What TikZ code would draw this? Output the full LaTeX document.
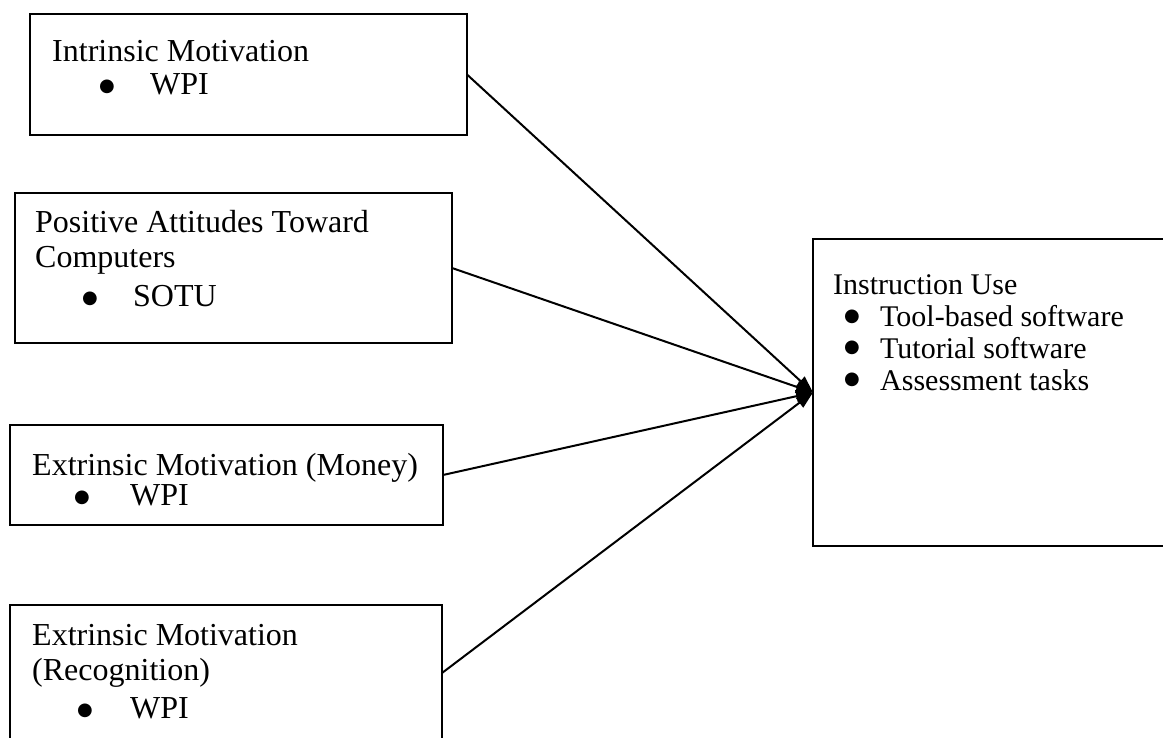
\documentclass[tikz,border=0pt]{standalone}
\usepackage{fontspec}
\setmainfont{Liberation Serif}
\newfontfamily\dotfont{DejaVu Sans}
\usetikzlibrary{arrows.meta}

% list bullet, raised by #1, taking no width of its own
\newcommand\listdot[1]{\makebox[0pt][l]{\hspace{1pt}\raisebox{#1}{\dotfont\fontsize{18}{18}\selectfont ●}}}

\tikzset{
  factor/.style={draw, line width=2pt, rectangle, inner sep=0pt, outer sep=0pt},
  line/.style={anchor=base west, inner sep=0pt, font=\fontsize{32}{36}\selectfont},
  rlist/.style={anchor=base west, inner sep=0pt, align=left, font=\fontsize{30}{31.7}\selectfont},
  link/.style={line width=2pt, -{Triangle[length=17pt,width=12pt]}},
}

\begin{document}
\begin{tikzpicture}[x=1pt, y=-1pt]
\useasboundingbox (0,0) rectangle (1163,738);
\clip (0,0) rectangle (1163,738);

% predictor boxes
\node[factor, minimum width=437pt, minimum height=121pt] (b1) at (248.5,74.5) {};
\node[factor, minimum width=437pt, minimum height=150pt] (b2) at (233.5,268) {};
\node[factor, minimum width=433pt, minimum height=100pt] (b3) at (226.5,475) {};
\node[factor, minimum width=432pt, minimum height=136pt] (b4) at (226,673) {};
% outcome box
\node[factor, minimum width=362pt, minimum height=307pt] (ru) at (994,392.5) {};

% box 1
\node[line] (t1a) at (52,62) {Intrinsic Motivation};
\node[line] (t1b) at (98,95) {\listdot{3pt}\hspace{52pt}WPI};

% box 2
\node[line] (t2a) at (35,233) {Positive Attitudes Toward};
\node[line] (t2b) at (35,268) {Computers};
\node[line] (t2c) at (81,307) {\listdot{3pt}\hspace{52pt}SOTU};

% box 3
\node[line] (t3a) at (32,475) {Extrinsic Motivation (Money)};
\node[line] (t3b) at (73,505) {\listdot{3pt}\hspace{57pt}WPI};

% box 4
\node[line] (t4a) at (32,645) {Extrinsic Motivation};
\node[line] (t4b) at (32,680) {(Recognition)};
\node[line] (t4c) at (76,718) {\listdot{3pt}\hspace{54pt}WPI};

% outcome (anchored at the baseline of its last line)
\node[rlist] (r0) at (833,390) {Instruction Use\\
  \hspace*{10pt}\listdot{5.5pt}\hspace{37pt}Tool-based software\\
  \hspace*{10pt}\listdot{5.5pt}\hspace{37pt}Tutorial software\\
  \hspace*{10pt}\listdot{5.5pt}\hspace{37pt}Assessment tasks};

% connectors
\draw[link] (b1.east) -- (ru.west);
\draw[link] (b2.east) -- (ru.west);
\draw[link] (b3.east) -- (ru.west);
\draw[link] (b4.east) -- (ru.west);
\end{tikzpicture}
\end{document}
